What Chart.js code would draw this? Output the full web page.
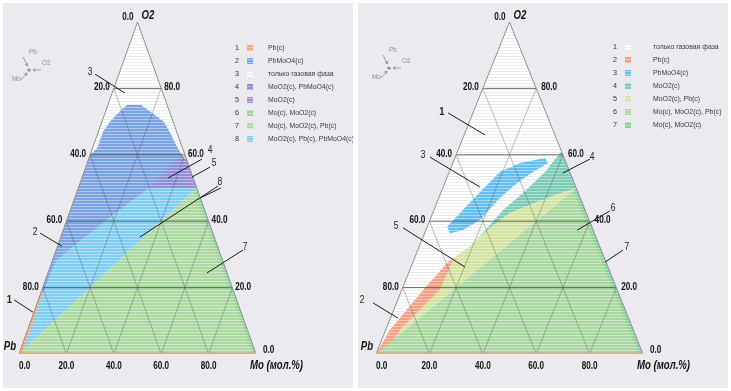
<!DOCTYPE html>
<html><head><meta charset="utf-8">
<script src="https://cdn.jsdelivr.net/npm/chart.js@4.4.1/dist/chart.umd.min.js"></script>
<style>
html,body{margin:0;padding:0;background:#fff;width:731px;height:391px;overflow:hidden}
.panel{position:absolute;top:3px;height:385px;background:#ebebef}
#p1{left:3px;width:350px}
#p2{left:358px;width:370px}
canvas{display:block}
</style></head><body>
<div class="panel" id="p1"><canvas id="c1" width="350" height="385"></canvas></div>
<div class="panel" id="p2"><canvas id="c2" width="370" height="385"></canvas></div>
<script>
// ---------- tick labels (mol.%) ----------
const tickValues = [0, 20, 40, 60, 80];
const tickLabels = ['0.0', '20.0', '40.0', '60.0', '80.0'];

// ---------- LEFT diagram: phase fields, vertices as [Mo mol.%, O2 mol.%] ----------
const leftNames = ['Pb(c)', 'PbMoO4(c)', 'только газовая фаза', 'MoO2(c), PbMoO4(c)', 'MoO2(c)',
                   'Mo(c), MoO2(c)', 'Mo(c), MoO2(c), Pb(c)', 'MoO2(c), Pb(c), PbMoO4(c)'];
const leftField1 = [[0,0],[0,19],[0.9,19],[1.4,0]];
const leftField2 = [[8,75],[14,75],[19,73],[26,70],[30,67],[36,62],[41,58.5],[50,50],[30,50],[17,40.5],[6,32],
                    [1.5,28],[1,22],[1,17],[0,17],[0,60],[2,62],[2,67],[3.5,70],[5.5,72.5]];
const leftField3 = [[0,0],[100,0],[0,100]];
const leftField4 = [[30,50],[38.5,60],[40,59],[46,50]];
const leftField5 = [[40,59],[41,59],[50,50],[46,50]];
const leftField6 = [[50,50],[100,0],[98.5,0],[49.2,49.2]];
const leftField7 = [[0,0],[50,50],[100,0]];
const leftField8 = [[0,0],[0,30],[17,40.5],[30,50],[50,50]];
const leftFields = [leftField1, leftField2, leftField3, leftField4, leftField5, leftField6, leftField7, leftField8];
const leftColors = ['#f2a779','#7ba2e2','#ffffff','#8d8fd6','#a08ad8','#96d39b','#acd9a0','#80cdf3'];
const leftDrawOrder = [2, 7, 1, 3, 4, 6, 5, 0];

// ---------- RIGHT diagram ----------
const rightNames = ['только газовая фаза', 'Pb(c)', 'PbMoO4(c)', 'MoO2(c)', 'MoO2(c), Pb(c)',
                    'Mo(c), MoO2(c), Pb(c)', 'Mo(c), MoO2(c)'];
const rightField1 = [[0,0],[100,0],[0,100]];
const rightField2 = [[0,0],[1.6,7.2],[8,19.3],[13.1,27.7],[14.8,29],[14.3,19.3],[5.4,7.2],[3.4,0]];
const rightField3 = [[7.5,38.3],[10.2,42.5],[14.6,48.8],[19,54.8],[25.2,57.5],[33.8,59],[35.7,57.5],[31.4,54.8],
                     [27.1,51.5],[22.9,47],[18.8,40.4],[13.9,37.3],[9.5,36.4]];
const rightField4 = [[38.9,61.1],[50,50],[41.5,47.3],[35.2,44.9],[28.9,42.5],[23.7,38],[18.5,32],[21.2,35.5],
                     [25.9,43.4],[30.8,48.5],[35.9,54.8]];
const rightField5 = [[50,50],[41.5,47.3],[35.2,44.9],[28.9,42.5],[23.7,38],[18.5,32],[14.8,29],[14.3,19.3],
                     [5.4,7.2],[3.4,0],[0,0]];
const rightField6 = [[0,0],[50,50],[100,0]];
const rightField7 = [[50,50],[100,0],[98.5,0],[49.2,49.2]];
const rightFields = [rightField1, rightField2, rightField3, rightField4, rightField5, rightField6, rightField7];
const rightColors = ['#ffffff','#f5a084','#62bff0','#7ccbb5','#d3e3a0','#a8d7a0','#8ccf9e'];
const rightDrawOrder = [0, 2, 3, 4, 1, 5, 6];

// ---------- callouts (number, text anchor and leader lines in plot X/Y units) ----------
const leftCallouts = [
  {t:'3', at:[30.0,84.9], lines:[[[32.1,84.3],[44.7,78.6]]]},
  {t:'1', at:[-4.1,16.3], lines:[[[-2.1,16.3],[5.9,12.6]]], bold:true},
  {t:'2', at:[6.8,36.8], lines:[[[8.9,36.4],[18.1,32.5]]]},
  {t:'4', at:[80.6,61.5], lines:[[[77.2,58.7],[62.9,53.0]]]},
  {t:'5', at:[82.3,57.5], lines:[[[80.6,56.3],[73.0,53.3]]]},
  {t:'8', at:[84.8,51.8], lines:[[[84.0,50.6],[51.0,35.2]],[[85.2,50.0],[76.4,47.0]]]},
  {t:'7', at:[95.4,32.2], lines:[[[94.5,31.3],[79.3,24.4]]]}
];
const rightCallouts = [
  {t:'1', at:[24.7,72.9], lines:[[[27.0,72.6],[40.8,66.0]]], bold:true},
  {t:'3', at:[17.6,59.9], lines:[[[20.2,59.3],[38.9,50.3]]]},
  {t:'5', at:[7.5,38.6], lines:[[[10.1,38.0],[33.3,26.2]]]},
  {t:'2', at:[-5.2,16.3], lines:[[[-1.1,15.4],[8.2,10.8]]]},
  {t:'4', at:[80.9,59.3], lines:[[[80.1,58.7],[70.0,54.5]]]},
  {t:'6', at:[88.8,44.0], lines:[[[87.6,43.1],[75.3,37.3]]]},
  {t:'7', at:[94.0,32.2], lines:[[[92.5,31.3],[85.8,27.7]]]}
];

// ---------- helpers ----------
const SANS = '"Liberation Sans",Arial,sans-serif';
const T = (mo, o2) => ({x: mo + o2 / 2, y: o2});
function mixWhite(hex, a) {
  const n = parseInt(hex.slice(1), 16);
  const c = [n >> 16, (n >> 8) & 255, n & 255].map(v => Math.round(v + (255 - v) * a));
  return 'rgb(' + c.join(',') + ')';
}
function pattern(ctx, hex) {
  const c = document.createElement('canvas'); c.width = 4; c.height = 3;
  const g = c.getContext('2d');
  g.fillStyle = hex; g.fillRect(0, 0, 4, 3);
  g.fillStyle = hex === '#ffffff' ? '#ebebee' : mixWhite(hex, 0.4);
  g.fillRect(0, 2, 4, 1);
  return ctx.createPattern(c, 'repeat');
}
function seg(a, b, color, width) {
  return {type:'line', data:[a, b], borderColor:color, borderWidth:width, pointRadius:0, fill:false, tension:0};
}
// horizontally condensed text
function txt(ctx, s, x, y, align, font, sx) {
  ctx.save();
  ctx.font = font; ctx.textAlign = align;
  ctx.translate(x, y); ctx.scale(sx, 1);
  ctx.fillText(s, 0, 0);
  ctx.restore();
}

function makeAnnot(cfg) {
  return {
    id: 'annot',
    afterDraw(chart) {
      const ctx = chart.ctx, xs = chart.scales.x, ys = chart.scales.y;
      const P = (mo, o2) => ({x: xs.getPixelForValue(mo + o2 / 2), y: ys.getPixelForValue(o2)});
      const Q = (X, Y) => ({x: xs.getPixelForValue(X), y: ys.getPixelForValue(Y)});
      ctx.save();
      ctx.textBaseline = 'middle';
      ctx.fillStyle = '#111';
      const TF = 'bold 11px ' + SANS, TS = 0.74;
      tickValues.forEach((v, i) => {
        if (v > 0) {
          const p = P(0, 100 - v);
          txt(ctx, tickLabels[i], p.x - 4, p.y - 1, 'right', TF, TS);
          const q = P(100 - v, v);
          txt(ctx, tickLabels[i], q.x + cfg.rOff, q.y - 1, 'left', TF, TS);
        }
        const b = P(v, 0);
        txt(ctx, tickLabels[i], b.x, b.y + 12, v === 0 ? 'left' : 'center', TF, TS);
      });
      const apex = P(0, 100), moC = P(100, 0), pbC = P(0, 0);
      txt(ctx, tickLabels[0], apex.x - 4, apex.y - 5, 'right', TF, TS);
      txt(ctx, tickLabels[0], moC.x + 7, moC.y - 4, 'left', TF, TS);
      const IF = 'italic bold 12px ' + SANS;
      txt(ctx, 'O2', apex.x + 4, apex.y - 6, 'left', IF, 0.8);
      txt(ctx, 'Pb', pbC.x - 3, pbC.y - 7, 'right', IF, 0.8);
      txt(ctx, 'Mo (мол.%)', moC.x - 6, moC.y + 12, 'left', IF, 0.8);

      // callouts
      ctx.strokeStyle = '#1a1a1a'; ctx.lineWidth = 1;
      cfg.callouts.forEach(c => {
        c.lines.forEach(l => {
          const a = Q(l[0][0], l[0][1]), b = Q(l[1][0], l[1][1]);
          ctx.beginPath(); ctx.moveTo(a.x, a.y); ctx.lineTo(b.x, b.y); ctx.stroke();
        });
        const p = Q(c.at[0], c.at[1]);
        ctx.fillStyle = '#222';
        txt(ctx, c.t, p.x, p.y, 'center', (c.bold ? 'bold 11px ' : '10px ') + SANS, 0.85);
      });

      // legend
      const lg = cfg.legend;
      cfg.names.forEach((name, i) => {
        const y = lg.y + i * lg.dy;
        ctx.fillStyle = '#333';
        txt(ctx, String(i + 1), lg.numX, y, 'center', '8px ' + SANS, 0.9);
        ctx.fillStyle = cfg.pats[i];
        ctx.fillRect(lg.swX, y - 3, 6, 6);
        ctx.fillStyle = '#3a3a3a';
        txt(ctx, name, lg.txX, y, 'left', '8px ' + SANS, 0.86);
      });

      // orientation glyph
      const g = cfg.glyph;
      ctx.strokeStyle = '#8a8a8a'; ctx.fillStyle = '#8a8a8a'; ctx.lineWidth = 0.8;
      ctx.beginPath(); ctx.arc(g.x, g.y, 1.6, 0, Math.PI * 2); ctx.fill();
      const arrow = (x1, y1, x2, y2) => {
        ctx.beginPath(); ctx.moveTo(x1, y1); ctx.lineTo(x2, y2); ctx.stroke();
        const ang = Math.atan2(y2 - y1, x2 - x1);
        ctx.beginPath(); ctx.moveTo(x2, y2);
        ctx.lineTo(x2 - 3 * Math.cos(ang - 0.5), y2 - 3 * Math.sin(ang - 0.5));
        ctx.moveTo(x2, y2);
        ctx.lineTo(x2 - 3 * Math.cos(ang + 0.5), y2 - 3 * Math.sin(ang + 0.5));
        ctx.stroke();
      };
      arrow(g.x - 6, g.y - 13, g.x - 1.5, g.y - 4);
      arrow(g.x + 12, g.y, g.x + 4, g.y);
      arrow(g.x - 8, g.y + 10, g.x - 2, g.y + 3);
      txt(ctx, 'Pb', g.x, g.y - 18, 'left', '7px ' + SANS, 0.9);
      txt(ctx, 'O2', g.x + 13, g.y - 7, 'left', '7px ' + SANS, 0.9);
      txt(ctx, 'Mo', g.x - 17, g.y + 9, 'left', '7px ' + SANS, 0.9);
      ctx.restore();
    }
  };
}

function build(canvasId, fields, colors, order, names, cfg) {
  const ctx = document.getElementById(canvasId).getContext('2d');
  const pats = colors.map(c => pattern(ctx, c));
  const ds = [];
  order.forEach(i => {
    const data = fields[i].map(p => T(p[0], p[1]));
    data.push(data[0]);
    ds.push({type:'line', data, fill:'shape', backgroundColor:pats[i], borderColor:'rgba(0,0,0,0)',
             borderWidth:0, pointRadius:0, tension:0});
  });
  // grid
  tickValues.filter(v => v > 0).forEach(v => {
    ds.push(seg(T(0, v), T(100 - v, v), 'rgba(60,60,60,0.75)', 1));
    ds.push(seg(T(v, 0), T(v, 100 - v), 'rgba(70,70,70,0.45)', 0.8));
    ds.push(seg(T(100 - v, 0), T(0, 100 - v), 'rgba(70,70,70,0.45)', 0.8));
  });
  // frame
  ds.push({type:'line', data:[T(0,0), T(0,100), T(100,0)], borderColor:'#8e8e8e', borderWidth:1,
           pointRadius:0, fill:false, tension:0});
  ds.push(seg(T(0,0), T(100,0), '#d9ae7e', 3));
  ds.forEach((d, i) => { d.order = ds.length - i; });

  cfg.names = names; cfg.pats = pats;
  new Chart(ctx, {
    type: 'line',
    data: {datasets: ds},
    options: {
      responsive: false, animation: false, events: [],
      layout: {padding: cfg.pad},
      scales: {
        x: {type:'linear', min:0, max:100, display:false},
        y: {type:'linear', min:0, max:100, display:false}
      },
      plugins: {legend:{display:false}, tooltip:{enabled:false}}
    },
    plugins: [makeAnnot(cfg)]
  });
}

build('c1', leftFields, leftColors, leftDrawOrder, leftNames, {
  pad: {left:16, right:97, top:19, bottom:34}, rOff: 3,
  callouts: leftCallouts,
  legend: {y:45, dy:13, numX:234, swX:244, txX:265},
  glyph: {x:26, y:67}
});
build('c2', rightFields, rightColors, rightDrawOrder, rightNames, {
  pad: {left:18, right:85, top:19, bottom:34}, rOff: 5,
  callouts: rightCallouts,
  legend: {y:44, dy:13, numX:257, swX:267, txX:295},
  glyph: {x:31, y:65}
});
</script>
</body></html>
